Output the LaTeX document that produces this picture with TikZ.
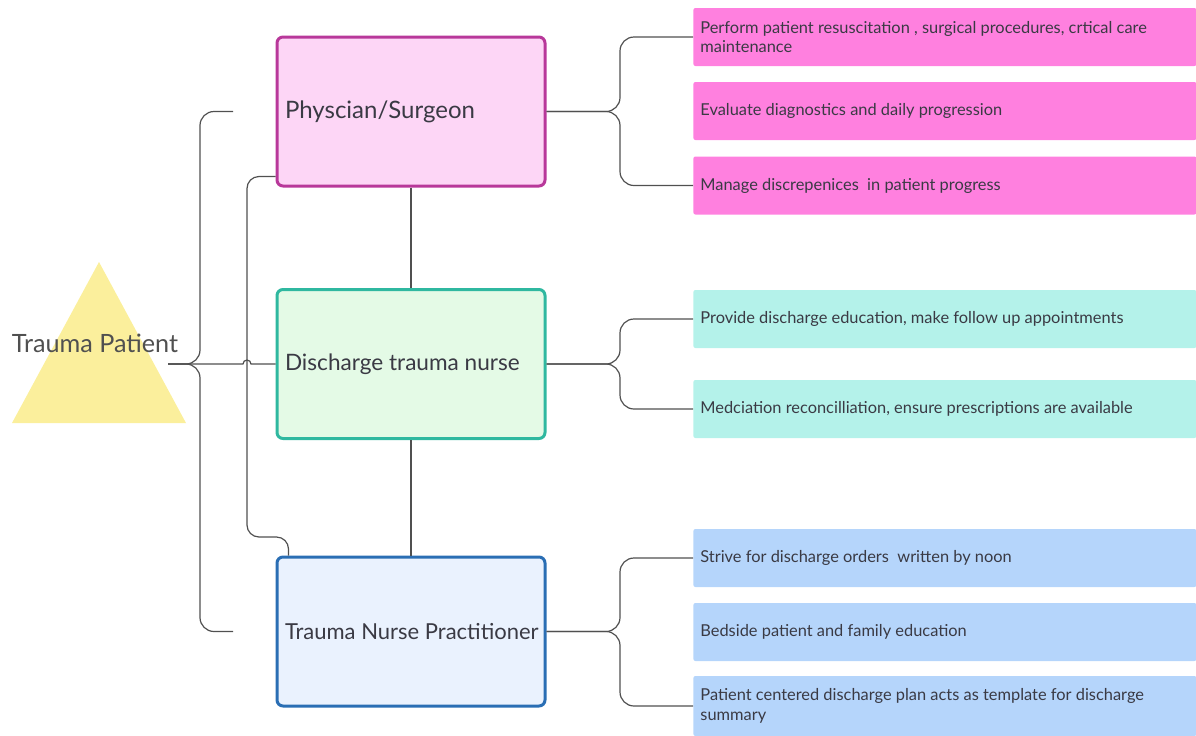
\documentclass[tikz,border=0pt]{standalone}
\usepackage{fontspec}
\setmainfont{Lato}
\definecolor{linegray}{HTML}{505050}
\definecolor{txtgray}{HTML}{3A3A44}
\definecolor{trifill}{HTML}{FBEF9C}
\definecolor{physline}{HTML}{B8389A}
\definecolor{physfill}{HTML}{FDD6F6}
\definecolor{discline}{HTML}{2FB8A0}
\definecolor{discfill}{HTML}{E4FAE6}
\definecolor{tnpline}{HTML}{2A6EB4}
\definecolor{tnpfill}{HTML}{EAF2FE}
\definecolor{phystask}{HTML}{FF80DF}
\definecolor{disctask}{HTML}{B4F2EA}
\definecolor{tnptask}{HTML}{B5D5FB}

\begin{document}
\begin{tikzpicture}[x=0.5pt,y=-0.5pt]
\tikzstyle{role}=[draw, line width=1.5pt, rounded corners=3pt, minimum width=134pt, minimum height=74.5pt, text width=126pt, inner xsep=4pt, align=flush left, text=txtgray, font=\fontsize{11.3}{14}\selectfont]
\tikzstyle{task}=[anchor=west, rounded corners=1pt, minimum height=29pt, text width=244.5pt, inner xsep=3.5pt, align=flush left, text=txtgray, font=\fontsize{8.2}{9.8}\selectfont]
\tikzstyle{link}=[draw=linegray, line width=0.6pt, rounded corners=7pt]
\useasboundingbox (0,0) rectangle (1196,735);
% patient
\fill [trifill] (99,262) -- (186,423) -- (12,423) -- cycle;
\node [text=linegray, font=\fontsize{12.6}{14}\selectfont] (patient) at (95,343) {Trauma Patient};
% roles
\node [role, draw=physline, fill=physfill] (phys) at (411,111.5) {\fontsize{12}{14}\selectfont Physcian/Surgeon};
\node [role, draw=discline, fill=discfill] (disc) at (411,364) {Discharge trauma nurse};
\node [role, draw=tnpline, fill=tnpfill] (tnp) at (411,631.5) {\fontsize{11}{14}\selectfont\mbox{Trauma Nurse Practitioner}};
% tasks
\node [task, fill=phystask] (phys1) at (693,37) {Perform patient resuscitation , surgical procedures, crtical care\\maintenance};
\node [task, fill=phystask] (phys2) at (693,111) {Evaluate diagnostics and daily progression};
\node [task, fill=phystask] (phys3) at (693,185.5) {Manage discrepenices\ \ in patient progress};
\node [task, fill=disctask] (disc1) at (693,319) {Provide discharge education, make follow up appointments};
\node [task, fill=disctask] (disc2) at (693,409) {Medciation reconcilliation, ensure prescriptions are available};
\node [task, fill=tnptask] (tnp1) at (693,558) {Strive for discharge orders\ \ written by noon};
\node [task, fill=tnptask] (tnp2) at (693,632) {Bedside patient and family education};
\node [task, fill=tnptask, minimum height=30pt] (tnp3) at (693,706) {Patient centered discharge plan acts as template for discharge\\summary};
% left brace
\coordinate (tip) at (168,364);
\coordinate (top) at (233,111.5);
\coordinate (bot) at (233,631.5);
\draw [link] (tip) -- (200,364) |- (top);
\draw [link] (tip) -- (200,364) |- (bot);
\draw [linegray, line width=0.6pt] (tip) -- (243,364) arc[start angle=180, end angle=0, radius=2pt] -- (disc.west);
\draw [link, rounded corners=6pt] ([yshift=5.5pt]phys.south west) -| (247,537) -| ([xshift=6.5pt]tnp.north west);
% role chain
\draw [linegray, line width=0.6pt] (phys) -- (disc);
\draw [linegray, line width=0.6pt] (disc) -- (tnp);
% right braces
\draw [link] (phys.east) -- (620,111.5) |- (phys1.west);
\draw [link] (phys.east) -- (620,111.5) |- (phys3.west);
\draw [link] (disc.east) -- (620,364) |- (disc1.west);
\draw [link] (disc.east) -- (620,364) |- (disc2.west);
\draw [link] (tnp.east) -- (620,631.5) |- (tnp1.west);
\draw [link] (tnp.east) -- (620,631.5) |- (tnp3.west);
\end{tikzpicture}
\end{document}
